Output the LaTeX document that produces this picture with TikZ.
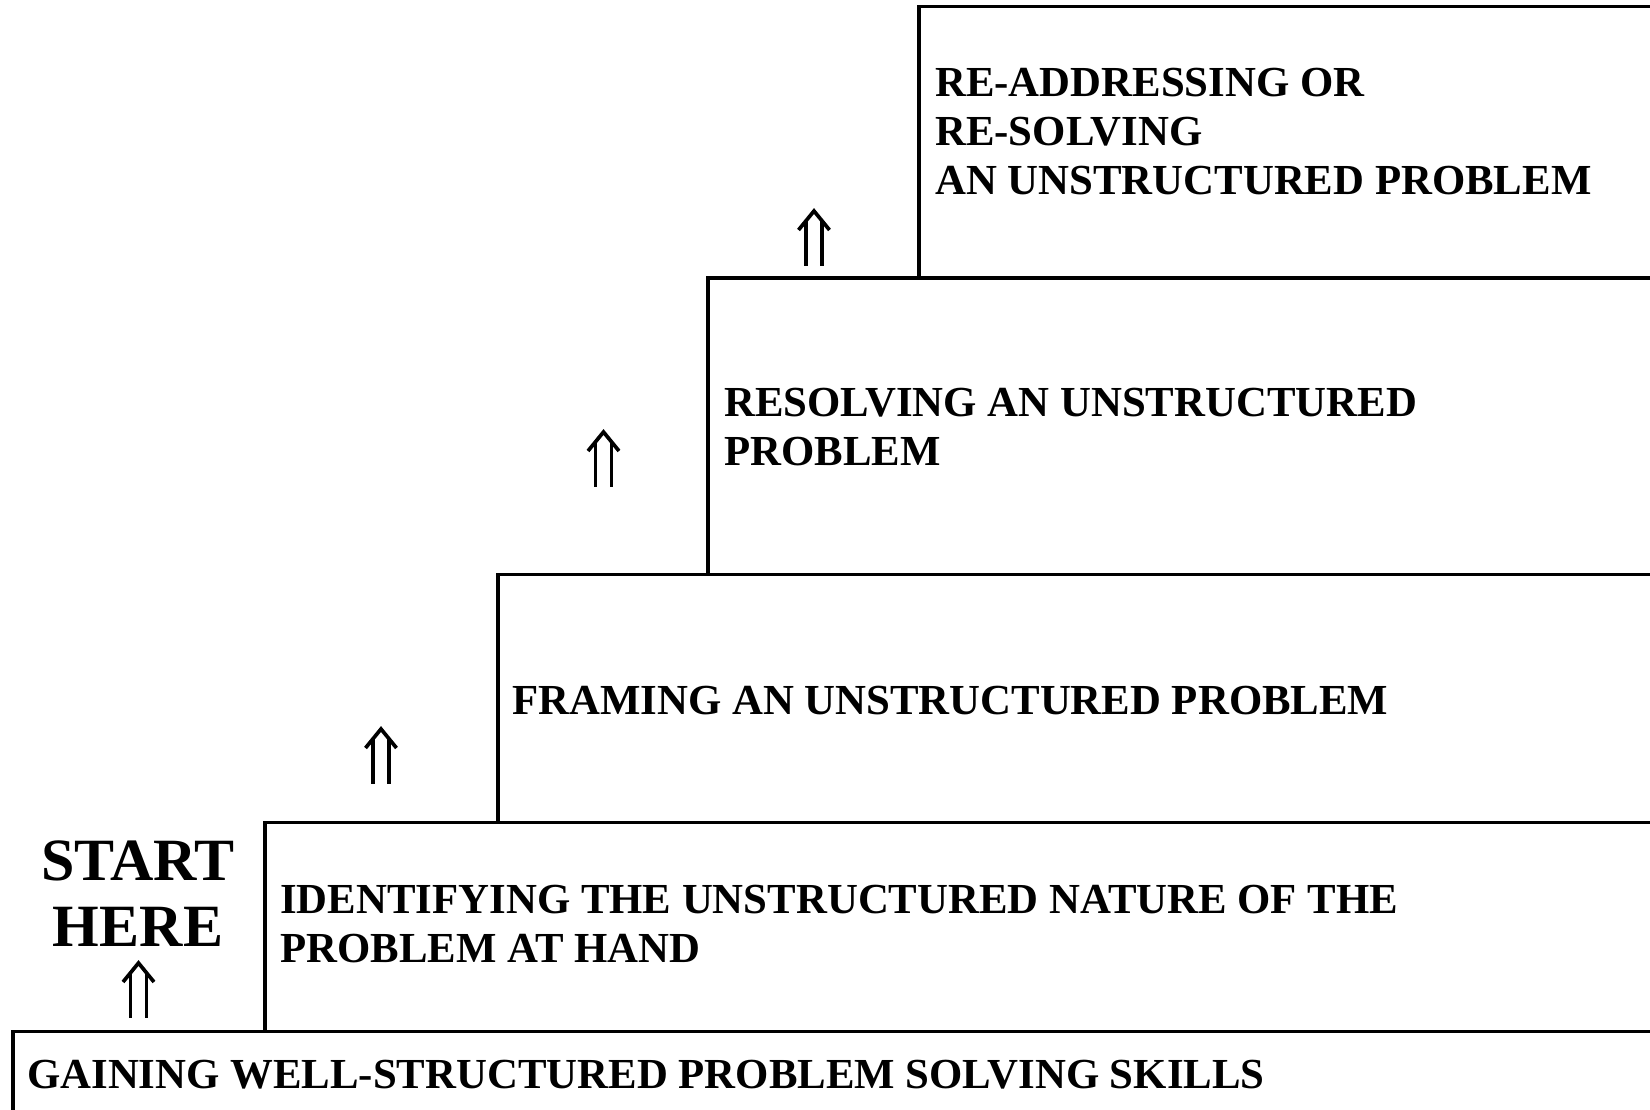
\documentclass[tikz,border=0pt]{standalone}
\usepackage{fontspec}
\setmainfont{Liberation Serif}
\begin{document}
\begin{tikzpicture}[x=1pt,y=-1pt,
  stepbox/.style={draw, line width=3.1pt, rectangle, anchor=north west, inner sep=0pt, outer sep=0pt, minimum width=#1},
  steptext/.style={anchor=base west, inner sep=0pt, align=left, font=\bfseries\fontsize{42.8}{49}\selectfont},
  starttext/.style={anchor=base, inner sep=0pt, align=center, font=\bfseries\fontsize{60}{66}\selectfont},
  dblup/.pic={
    \draw[line width=3.7pt, line join=miter] (-15.5,19) -- (0,0) -- (15.5,19);
    \draw[line width=3.7pt] (-8,9) -- (-8,55) (8,9) -- (8,55);
  }]
\useasboundingbox (0,0) rectangle (1650,1110);
\clip (0,0) rectangle (1650,1110);
% boxes (they run past the right and bottom edges)
\node[stepbox=800pt, minimum height=271.5pt] (b1) at (919,6.5) {};
\node[stepbox=1000pt, minimum height=296.5pt] (b2) at (708,278) {};
\node[stepbox=1200pt, minimum height=248pt] (b3) at (498,574.5) {};
\node[stepbox=1450pt, minimum height=209pt] (b4) at (265,822.5) {};
\node[stepbox=1700pt, minimum height=200pt] (b5) at (13,1031.5) {};
% texts (base anchor = baseline of the last line)
\node[steptext] (t1) at (935,195) {RE-ADDRESSING OR\\RE-SOLVING\\AN UNSTRUCTURED PROBLEM};
\node[steptext] (t2) at (724,465) {RESOLVING AN UNSTRUCTURED\\PROBLEM};
\node[steptext] (t3) at (512,714) {FRAMING AN UNSTRUCTURED PROBLEM};
\node[steptext] (t4) at (280,962) {IDENTIFYING THE UNSTRUCTURED NATURE OF THE\\PROBLEM AT HAND};
\node[steptext] (t5) at (27,1088) {GAINING WELL-STRUCTURED PROBLEM SOLVING SKILLS};
\node[starttext] (start) at (138,946) {START\\HERE};
% arrows
\pic (a1) at (138.5,963) {dblup};
\pic (a2) at (381,729) {dblup};
\pic (a3) at (603.5,432) {dblup};
\pic (a4) at (814,211) {dblup};
\end{tikzpicture}
\end{document}
